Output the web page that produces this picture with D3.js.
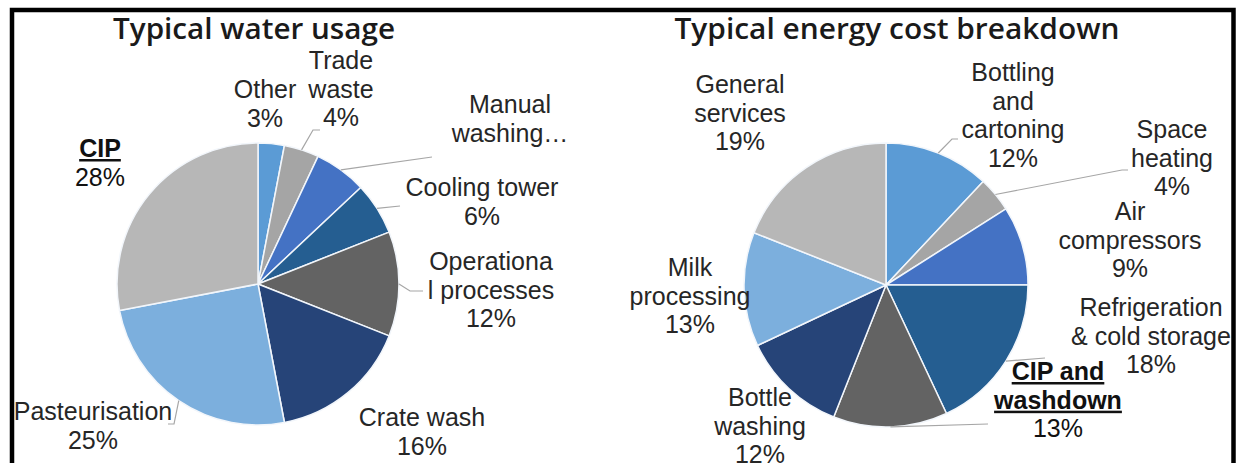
<!DOCTYPE html>
<html>
<head>
<meta charset="utf-8">
<script src="https://cdn.jsdelivr.net/npm/d3@7"></script>
<style>
  html, body { margin: 0; padding: 0; background: #fff; }
  svg { display: block; }
</style>
</head>
<body>
<svg id="chart" width="1236" height="463"></svg>
<script>
// ---------- DATA ----------
const waterTitle = "Typical water usage";
const waterCategories = ["Other", "Trade waste", "Manual washing", "Cooling tower", "Operational processes", "Crate wash", "Pasteurisation", "CIP"];
const waterValues = [3, 4, 6, 6, 12, 16, 25, 28];
const waterLabelLines = [["Other"], ["Trade", "waste"], ["Manual", "washing…"], ["Cooling tower"], ["Operationa", "l processes"], ["Crate wash"], ["Pasteurisation"], ["CIP"]];
const waterShowPercent = [true, true, false, true, true, true, true, true];

const energyTitle = "Typical energy cost breakdown";
const energyCategories = ["Bottling and cartoning", "Space heating", "Air compressors", "Refrigeration & cold storage", "CIP and washdown", "Bottle washing", "Milk processing", "General services"];
const energyValues = [12, 4, 9, 18, 13, 12, 13, 19];
const energyLabelLines = [["Bottling", "and", "cartoning"], ["Space", "heating"], ["Air", "compressors"], ["Refrigeration", "& cold storage"], ["CIP and", "washdown"], ["Bottle", "washing"], ["Milk", "processing"], ["General", "services"]];
const energyShowPercent = [true, true, true, true, true, true, true, true];

const sliceColors = ["#5B9BD5", "#A5A5A5", "#4472C4", "#255E91", "#636363", "#264478", "#7CAFDD", "#B7B7B7"];

// ---------- LAYOUT (positions / styles) ----------
const svg = d3.select("#chart");
const labelFont = "'Liberation Sans', Arial, sans-serif";
const labelSize = 25;
const lineH = 28.7;
const textColor = "#262626";

const panels = [
  {
    title: waterTitle, titleX: 254, titleW: 282,
    cats: waterCategories, vals: waterValues, lines: waterLabelLines, showPct: waterShowPercent,
    cx: 258, cy: 284, r: 141,
    labelPos: [[265, 98], [341, 69], [510, 113], [482, 196], [491, 270], [422, 426], [93, 420], [100, 157]],
    emphasis: [false, false, false, false, false, false, false, true],
    leaders: [null, [[313, 130], [320, 130]], [[432, 157]], [[400, 206]], [[410, 291], [423, 291]], null, [[174, 424], [168, 424]], null]
  },
  {
    title: energyTitle, titleX: 897, titleW: 445,
    cats: energyCategories, vals: energyValues, lines: energyLabelLines, showPct: energyShowPercent,
    cx: 886, cy: 285, r: 142,
    labelPos: [[1013, 81], [1172, 138], [1130, 220], [1151, 316], [1058, 380], [760, 406], [690, 276], [740, 93]],
    emphasis: [false, false, false, false, true, false, false, false],
    leaders: [[[952, 139], [958, 139]], [[1122, 170], [1128, 170]], null, [[1045, 358]], [[988, 424]], null, null, null]
  }
];

panels.forEach(p => {
  const pie = d3.pie().sort(null).value(d => d)(p.vals);
  const arc = d3.arc().innerRadius(0).outerRadius(p.r);
  const g = svg.append("g").attr("transform", `translate(${p.cx},${p.cy})`);

  g.selectAll("path.slice").data(pie).join("path")
    .attr("class", "slice")
    .attr("d", arc)
    .attr("fill", (d, i) => sliceColors[i])
    .attr("stroke", "#f2f6fb")
    .attr("stroke-width", 1.5)
    .attr("stroke-linejoin", "round");

  // leader lines
  pie.forEach((d, i) => {
    const pts = p.leaders[i];
    if (!pts) return;
    const a = (d.startAngle + d.endAngle) / 2;
    const start = [p.cx + Math.sin(a) * p.r, p.cy - Math.cos(a) * p.r];
    svg.append("path")
      .attr("d", d3.line()([start, ...pts]))
      .attr("fill", "none")
      .attr("stroke", "#a6a6a6")
      .attr("stroke-width", 1.2);
  });

  // labels
  pie.forEach((d, i) => {
    const [lx, ly] = p.labelPos[i];
    const lines = p.lines[i].slice();
    const emph = p.emphasis[i];
    const t = svg.append("text")
      .attr("x", lx).attr("y", ly)
      .attr("text-anchor", "middle")
      .attr("font-family", labelFont)
      .attr("font-size", labelSize)
      .attr("fill", emph ? "#111" : textColor);
    let k = 0;
    lines.forEach(line => {
      t.append("tspan").attr("x", lx).attr("y", ly + k * lineH)
        .attr("font-weight", emph ? "bold" : "normal")
        .attr("text-decoration", emph ? "underline" : null)
        .text(line);
      k++;
    });
    if (p.showPct[i]) {
      t.append("tspan").attr("x", lx).attr("y", ly + k * lineH)
        .text(d.data + "%");
    }
  });

  // title
  svg.append("text")
    .attr("x", p.titleX).attr("y", 39)
    .attr("text-anchor", "middle")
    .attr("font-family", "'Open Sans', 'Noto Sans', sans-serif")
    .attr("font-weight", 600)
    .attr("font-size", 28)
    .attr("fill", "#1a1a1a")
    .attr("textLength", p.titleW)
    .attr("lengthAdjust", "spacingAndGlyphs")
    .text(p.title);
});

// frame (top, left, right black bars)
svg.append("path")
  .attr("d", "M12,463 V10 H1233.5 V463")
  .attr("fill", "none")
  .attr("stroke", "#000")
  .attr("stroke-width", 4.5);
</script>
</body>
</html>
